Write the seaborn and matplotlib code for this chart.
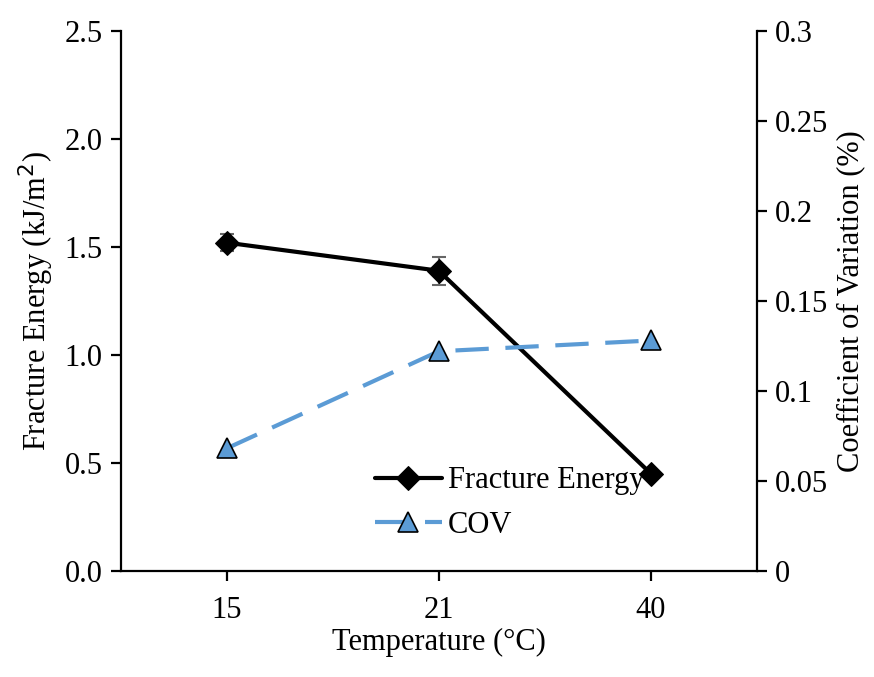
import pandas as pd
import matplotlib.pyplot as plt
import matplotlib.ticker as mticker
import seaborn as sns

# ── Data ──────────────────────────────────────────────────────────────────────
temperatures = ["15", "21", "40"]
fracture_energy = [1.52, 1.39, 0.45]
fracture_err = [0.04, 0.065, 0.0]
cov = [0.068, 0.122, 0.128]

# ── Style ─────────────────────────────────────────────────────────────────────
sns.set_style("ticks")
plt.rcParams["font.family"] = ["Liberation Serif", "DejaVu Serif"]
plt.rcParams.update({
    "font.size": 22,
    "text.color": "black",
    "axes.labelcolor": "black",
    "axes.edgecolor": "black",
    "xtick.color": "black",
    "ytick.color": "black",
    "axes.linewidth": 1.6,
    "xtick.major.width": 1.6,
    "ytick.major.width": 1.6,
    "xtick.major.size": 7,
    "ytick.major.size": 7,
    "xtick.direction": "out",
    "ytick.direction": "out",
})

df = pd.DataFrame({"temp": temperatures, "fe": fracture_energy, "cov": cov})

fig, ax = plt.subplots(figsize=(8.74, 6.77), dpi=100)
fig.subplots_adjust(left=0.138, right=0.866, top=0.954, bottom=0.157)

blue = "#5B9BD5"

sns.lineplot(data=df, x="temp", y="fe", ax=ax, color="black", lw=3,
             marker="D", markersize=12, markeredgecolor="black",
             label="Fracture Energy", legend=False, sort=False, zorder=3)
ax.errorbar(df["temp"], df["fe"], yerr=fracture_err, fmt="none",
            ecolor="#666666", elinewidth=1.5, capsize=5, capthick=1.5,
            zorder=1)

ax2 = ax.twinx()
sns.lineplot(data=df, x="temp", y="cov", ax=ax2, color=blue, lw=3,
             marker="^", markersize=14, markerfacecolor=blue,
             markeredgecolor="black", markeredgewidth=1.2,
             dashes=False, linestyle=(0, (8, 4)), label="COV", legend=False,
             sort=False)

ax.set_xlim(-0.5, 2.5)
ax.set_ylim(0, 2.5)
ax.yaxis.set_major_locator(mticker.MultipleLocator(0.5))
ax.yaxis.set_major_formatter(mticker.FormatStrFormatter("%.1f"))
ax2.set_ylim(0, 0.3)
ax2.yaxis.set_major_locator(mticker.MultipleLocator(0.05))
ax2.yaxis.set_major_formatter(mticker.FuncFormatter(lambda v, _: f"{v:g}"))

ax.set_xlabel("Temperature (°C)", fontsize=22, labelpad=2)
ax.set_ylabel("Fracture Energy (kJ/m$^2$)", fontsize=22, labelpad=6)
ax2.set_ylabel("Coefficient of Variation (%)", fontsize=22, labelpad=6)

for a in (ax, ax2):
    a.spines["top"].set_visible(False)
    a.tick_params(labelsize=22, pad=6)
ax.tick_params(axis="x", pad=11)
ax.spines["right"].set_visible(False)
ax2.spines["right"].set_visible(True)
ax2.spines["left"].set_visible(False)
ax2.spines["bottom"].set_visible(False)

h1, l1 = ax.get_legend_handles_labels()
h2, l2 = ax2.get_legend_handles_labels()
ax.legend(h1 + h2, l1 + l2, loc="lower left", bbox_to_anchor=(0.38, 0.035),
          frameon=False, fontsize=22, handlelength=2.2, handletextpad=0.2,
          labelspacing=0.5, borderaxespad=0)

fig.savefig("out.png", dpi=100)
